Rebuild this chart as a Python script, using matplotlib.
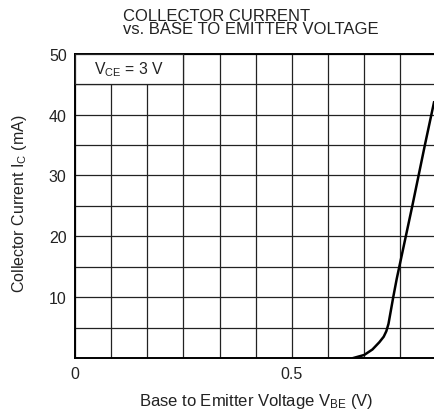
import matplotlib
matplotlib.use("Agg")
import matplotlib.pyplot as plt
from matplotlib.patches import Rectangle
import numpy as np

plt.rcParams['font.family'] = ['Liberation Sans', 'DejaVu Sans']
plt.rcParams['mathtext.fontset'] = 'custom'
plt.rcParams['mathtext.rm'] = 'Liberation Sans'

# curve: V_BE (V) vs I_C (mA)
vbe = [0.642, 0.667, 0.686, 0.702, 0.712, 0.718, 0.723, 0.728, 0.734, 0.742, 0.748,
       0.778, 0.807, 0.828]
ic = [0.0, 0.5, 1.4, 2.6, 3.5, 4.4, 5.6, 7.6, 10.0, 13.0, 15.0, 25.0, 35.0, 42.0]

x_ticks = [0, 0.5]
x_ticklabels = ['0', '0.5']
y_ticks = [10, 20, 30, 40, 50]

fig = plt.figure(figsize=(4.34, 4.14), dpi=100)
ax = fig.add_axes([75/434, 55/414, 1 - 75/434, (359 - 54.7)/414])

ax.set_xlim(0, 0.828)
ax.set_ylim(0, 50)

ax.set_xticks(x_ticks)
ax.set_xticklabels(x_ticklabels)
ax.set_xticks(np.arange(1, 10) / 12, minor=True)
ax.set_yticks(y_ticks)
ax.set_yticks(np.arange(5, 50, 5), minor=True)
ax.tick_params(which='both', length=0, labelsize=11.5, pad=6, labelcolor='#222222')

ax.grid(True, which='both', color='#222222', lw=0.9)
ax.set_axisbelow(True)
for s in ['left', 'top', 'bottom']:
    ax.spines[s].set_linewidth(1.4)
ax.spines['right'].set_visible(False)

ax.plot(vbe, ic, color='black', lw=1.8, zorder=5, solid_joinstyle='round')

# label box
ax.add_patch(Rectangle((0, 45), 0.25, 5, facecolor='white', edgecolor='#222222',
                       lw=0.9, zorder=3))
ax.text(0.125, 47.5, r'$\mathregular{V_{CE}}$ = 3 V', ha='center', va='center',
        fontsize=11.3, zorder=4, color='#222222')

fig.text(256/434, 1 - 402/414, r'Base to Emitter Voltage $\mathregular{V_{BE}}$ (V)',
         ha='center', va='center', fontsize=12, color='#222222')
fig.text(20/434, 1 - 204/414, r'Collector Current $\mathregular{I_{C}}$ (mA)',
         ha='center', va='center', rotation=90, fontsize=11.5, color='#222222')

fig.text(123/434, 1 - 9/414, 'COLLECTOR CURRENT\nvs. BASE TO EMITTER VOLTAGE',
         ha='left', va='top', fontsize=12, linespacing=0.82, color='#222222')

fig.savefig('out.png', dpi=100)
